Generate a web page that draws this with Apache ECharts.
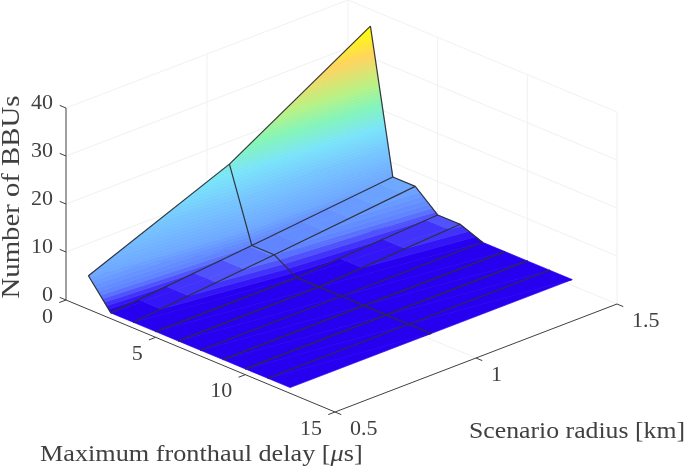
<!DOCTYPE html>
<html>
<head>
<meta charset="utf-8">
<title>Number of BBUs</title>
<script src="https://cdn.jsdelivr.net/npm/echarts@6/dist/echarts.min.js"></script>
<style>
  html, body { margin: 0; padding: 0; background: #fff; }
  #chart { width: 685px; height: 468px; }
</style>
</head>
<body>
<div id="chart"></div>
<script>
/* ---------- data ---------- */
const delays = [1.25, 2.5, 3.75, 5, 6.25, 7.5, 8.75, 10, 11.25, 12.5];
const radii = [0.5, 1, 1.5];
const bbusAtRadius05 = [7, 1.2, 1.2, 1.2, 1.2, 1.2, 1.2, 1.2, 1.2, 1.2];
const bbusAtRadius10 = [19, 4, 4, 1.2, 1.2, 1.2, 1.2, 1.2, 1.2, 1.2];
const bbusAtRadius15 = [36.5, 7, 7, 3, 3, 1.2, 1.2, 1.2, 1.2, 1.2];
const bbuRows = [bbusAtRadius05, bbusAtRadius10, bbusAtRadius15];

const delayTicks = [0, 5, 10, 15];
const radiusTicks = [0.5, 1, 1.5];
const bbuTicks = [0, 10, 20, 30, 40];

const delayTitle = "Maximum fronthaul delay [{i|μ}s]";
const radiusTitle = "Scenario radius [km]";
const bbuTitle = "Number of BBUs";

/* colour scale: bbu value -> colour */
const colourStops = [
    [1.6, [40, 0, 240]], [2.2, [55, 30, 248]], [3, [78, 75, 252]], [4, [95, 130, 255]],
    [7, [110, 168, 255]], [12, [118, 195, 255]],
    [17, [122, 228, 250]], [21.5, [132, 245, 185]], [25.5, [185, 242, 132]],
    [31, [255, 212, 95]], [36.5, [255, 255, 0]],
];
const LEVELS = 64;

/* ---------- view of the box: axis ends in page pixels ---------- */
const ORIGIN = [66, 300];           // delay 0, radius 0.5, bbu 0
const PER_DELAY = [269 / 15, 112 / 15];
const PER_RADIUS = [282, -108];
const PER_BBU = [0, -4.8];
const FONT = "Liberation Serif";
const INK = "#404040";

function project(d, r, z) {
    const dr = r - 0.5;
    return [
        ORIGIN[0] + PER_DELAY[0] * d + PER_RADIUS[0] * dr + PER_BBU[0] * z,
        ORIGIN[1] + PER_DELAY[1] * d + PER_RADIUS[1] * dr + PER_BBU[1] * z,
    ];
}

function colourAt(z) {
    if (z <= colourStops[0][0]) return colourStops[0][1];
    for (let i = 1; i < colourStops.length; i++) {
        const [z1, c1] = colourStops[i];
        if (z <= z1) {
            const [z0, c0] = colourStops[i - 1];
            const t = (z - z0) / (z1 - z0);
            return c0.map((v, k) => Math.round(v + (c1[k] - v) * t));
        }
    }
    return colourStops[colourStops.length - 1][1];
}

/* ---------- surface -> triangles -> flat colour bands ---------- */
function clipAbove(poly, level, keepAbove) {
    const out = [];
    const inside = (p) => (keepAbove ? p[2] >= level : p[2] <= level);
    poly.forEach((p, i) => {
        const q = poly[(i + 1) % poly.length];
        if (inside(p)) out.push(p);
        if (inside(p) !== inside(q)) {
            const t = (level - p[2]) / (q[2] - p[2]);
            out.push(p.map((v, k) => v + (q[k] - v) * t));
        }
    });
    return out;
}

function buildBands() {
    const zMin = 1.2;
    const zMax = colourStops[colourStops.length - 1][0];
    const step = (zMax - zMin) / LEVELS;
    const bands = [];
    // back to front so nearer cells paint over farther ones
    for (let ri = radii.length - 2; ri >= 0; ri--) {
        for (let di = 0; di < delays.length - 1; di++) {
            const v = (i, j) => [delays[i], radii[j], bbuRows[j][i]];
            const a = v(di, ri), b = v(di + 1, ri), c = v(di + 1, ri + 1), e = v(di, ri + 1);
            [[a, c, e], [a, b, c]].forEach((tri) => {
                for (let l = 0; l < LEVELS; l++) {
                    const lo = zMin + l * step;
                    const hi = lo + step;
                    let poly = l === 0 ? tri : clipAbove(tri, lo, true);
                    if (l < LEVELS - 1) poly = clipAbove(poly, hi, false);
                    if (poly.length < 3) continue;
                    const rgb = colourAt((lo + hi) / 2);
                    bands.push({ poly, colour: `rgb(${rgb.join(",")})` });
                }
            });
        }
    }
    return bands;
}

/* ---------- line work, all in data coordinates ---------- */
function wallLines() {
    const segs = [];
    [10, 20, 30, 40].forEach((z) => {
        segs.push([[0, 0.5, z], [0, 1.5, z]]);
        segs.push([[0, 1.5, z], [15, 1.5, z]]);
    });
    [1, 1.5].forEach((r) => segs.push([[0, r, 0], [0, r, 40]]));
    [5, 10, 15].forEach((d) => segs.push([[d, 1.5, 0], [d, 1.5, 40]]));
    [5, 10].forEach((d) => segs.push([[d, 0.5, 0], [d, 1.5, 0]]));
    segs.push([[0, 1, 0], [15, 1, 0]]);
    segs.push([[0, 1.5, 0], [15, 1.5, 0]]);
    return segs;
}

function edgeLines() {
    const segs = [];
    const v = (i, j) => [delays[i], radii[j], bbuRows[j][i]];
    // lines along the radius, the last delay has none in the picture
    for (let i = 0; i < delays.length - 1; i++) {
        segs.push([v(i, 0), v(i, 1)], [v(i, 1), v(i, 2)]);
    }
    // lines along the delay
    segs.push([v(0, 0), v(1, 0)]);
    for (let i = 0; i < delays.length - 1; i++) segs.push([v(i, 1), v(i + 1, 1)]);
    for (let i = 0; i < 5; i++) segs.push([v(i, 2), v(i + 1, 2)]);
    return segs;
}

function axisLines() {
    const segs = [
        [[0, 0.5, 0], [0, 0.5, 40]],
        [[0, 0.5, 0], [15, 0.5, 0]],
        [[15, 0.5, 0], [15, 1.5, 0]],
    ];
    const T_D = 0.35, T_R = 0.024;
    bbuTicks.forEach((z) => segs.push([[0, 0.5, z], [-T_D, 0.5, z]]));
    delayTicks.forEach((d) => segs.push([[d, 0.5, 0], [d, 0.5 - T_R, 0]]));
    radiusTicks.forEach((r) => segs.push([[15, r, 0], [15 + T_D, r, 0]]));
    return segs;
}

function buildLabels() {
    const labels = [];
    const fs = 22;
    bbuTicks.forEach((z) => labels.push({
        at: project(0, 0.5, z), dx: -13, dy: -5, text: String(z), align: "right", size: fs, sx: 1,
    }));
    delayTicks.forEach((d) => labels.push({
        at: project(d, 0.5, 0), dx: -13, dy: 17, text: String(d), align: "right", size: fs, sx: 1,
    }));
    radiusTicks.forEach((r) => labels.push({
        at: project(15, r, 0), dx: 15, dy: 17, text: String(r), align: "left", size: fs, sx: 1,
    }));
    labels.push({ at: [40, 455], dx: 0, dy: 0, text: delayTitle, align: "left", size: 23, sx: 1.14 });
    labels.push({ at: [469, 432], dx: 0, dy: 0, text: radiusTitle, align: "left", size: 23, sx: 1.12 });
    labels.push({ at: [12, 197], dx: 0, dy: 0, text: bbuTitle, align: "center", size: 25, sx: 1.15, rot: Math.PI / 2 });
    return labels;
}

const bands = buildBands();
const labels = buildLabels();

/* ---------- series ---------- */
function segmentSeries(segs, stroke, width, z) {
    return {
        type: "custom",
        coordinateSystem: "cartesian2d",
        silent: true,
        clip: false,
        z,
        data: segs.map((_, i) => [i]),
        renderItem: (params, api) => {
            const [p, q] = segs[api.value(0)];
            const a = api.coord(project(p[0], p[1], p[2]));
            const b = api.coord(project(q[0], q[1], q[2]));
            return {
                type: "line",
                shape: { x1: a[0], y1: a[1], x2: b[0], y2: b[1] },
                style: { stroke, lineWidth: width, fill: null },
            };
        },
    };
}

const surfaceSeries = {
    type: "custom",
    coordinateSystem: "cartesian2d",
    silent: true,
    clip: false,
    z: 3,
    data: bands.map((_, i) => [i]),
    renderItem: (params, api) => {
        const band = bands[api.value(0)];
        return {
            type: "polygon",
            shape: { points: band.poly.map((p) => api.coord(project(p[0], p[1], p[2]))) },
            style: { fill: band.colour, stroke: band.colour, lineWidth: 0.7 },
        };
    },
};

const labelSeries = {
    type: "custom",
    coordinateSystem: "cartesian2d",
    silent: true,
    clip: false,
    z: 6,
    data: labels.map((_, i) => [i]),
    renderItem: (params, api) => {
        const l = labels[api.value(0)];
        const p = api.coord(l.at);
        return {
            type: "text",
            x: p[0] + l.dx,
            y: p[1] + l.dy,
            rotation: l.rot || 0,
            scaleX: l.sx,
            style: {
                text: l.text,
                fontFamily: FONT,
                fontSize: l.size,
                fill: INK,
                align: l.align,
                verticalAlign: "middle",
                rich: { i: { fontFamily: FONT, fontSize: l.size, fontStyle: "italic", fill: INK } },
            },
        };
    },
};

/* ---------- init ---------- */
const chart = echarts.init(document.getElementById("chart"), null, { renderer: "canvas" });
chart.setOption({
    animation: false,
    backgroundColor: "#fff",
    grid: { left: 0, right: 0, top: 0, bottom: 0 },
    xAxis: { type: "value", min: 0, max: 685, show: false },
    yAxis: { type: "value", min: 0, max: 468, inverse: true, show: false },
    series: [
        segmentSeries(wallLines(), "#f0f1f2", 1, 1),
        surfaceSeries,
        segmentSeries(edgeLines(), "rgba(45,45,55,0.95)", 1.2, 4),
        segmentSeries(axisLines(), "#404040", 1, 5),
        labelSeries,
    ],
});
</script>
</body>
</html>
